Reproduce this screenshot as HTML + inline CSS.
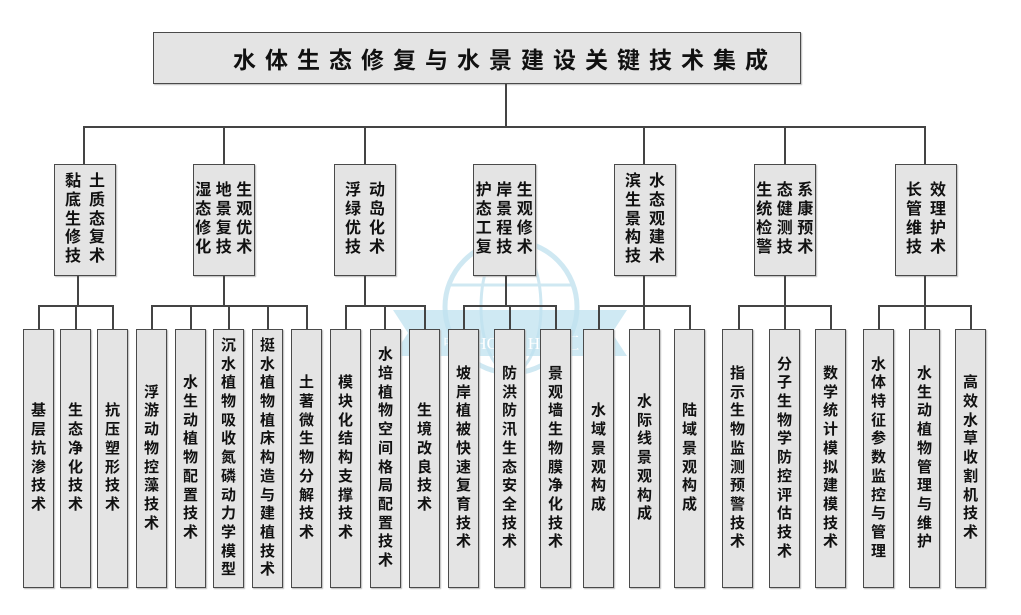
<!DOCTYPE html>
<html><head><meta charset="utf-8"><style>
body{margin:0;width:1021px;height:615px;background:#fff;position:relative;overflow:hidden;font-family:"Liberation Sans","Noto Sans CJK SC",sans-serif;}
.b{position:absolute;background:#e4e4e4;border:1.5px solid #4a4a4a;box-sizing:border-box;box-shadow:1px 1px 1px #bbb;display:flex;align-items:center;justify-content:center;font-weight:bold;color:#111;}
.m{font-size:16px;line-height:18.8px;letter-spacing:8px;text-align:left;padding-left:8px;white-space:nowrap;}
.m3{letter-spacing:4.5px;padding-left:4px;}
.l{font-size:15px;line-height:18.7px;width:31px;text-align:center;}
.l span{display:block;width:16px;margin:0 auto;word-break:break-all;}
.h{position:absolute;background:#444;height:1.5px;}
.v{position:absolute;background:#444;width:1.5px;}
</style></head><body>
<svg style="position:absolute;left:0;top:0" width="1021" height="615">
<g opacity="0.55" fill="none" stroke="#a9d6e8" stroke-width="5">
<circle cx="511" cy="307" r="66"/>
<ellipse cx="511" cy="307" rx="30" ry="66" stroke-width="3"/>
<line x1="447" y1="285" x2="575" y2="285" stroke-width="3"/>
</g>
<polygon points="393,310 627,310 612,333 627,356 393,356 408,333" fill="#bfe2ef" opacity="0.75"/>
<text x="511" y="349" font-family="Liberation Serif,Noto Serif CJK SC,serif" font-size="17" fill="#fff" text-anchor="middle">中 ZHONG HUI 汇</text>
</svg>
<div class="b" style="left:153px;top:32px;width:648px;height:52px;font-size:23px;letter-spacing:9px;padding-left:56px;white-space:nowrap;">水体生态修复与水景建设关键技术集成</div>
<div class="v" style="left:505px;top:84px;height:44px"></div>
<div class="h" style="left:83px;top:126px;width:843px"></div>
<div class="v" style="left:83px;top:126px;height:38px"></div>
<div class="v" style="left:223px;top:126px;height:38px"></div>
<div class="v" style="left:364px;top:126px;height:38px"></div>
<div class="v" style="left:643px;top:126px;height:38px"></div>
<div class="v" style="left:784px;top:126px;height:38px"></div>
<div class="v" style="left:924px;top:126px;height:38px"></div>

<div class="b m" style="left:54px;top:164px;width:62px;height:112px">黏土<br>底质<br>生态<br>修复<br>技术</div>
<div class="b m m3" style="left:193px;top:164px;width:62px;height:112px">湿地生<br>态景观<br>修复优<br>化技术</div>
<div class="b m" style="left:334px;top:164px;width:62px;height:112px">浮动<br>绿岛<br>优化<br>技术</div>
<div class="b m m3" style="left:473px;top:164px;width:63px;height:112px">护岸生<br>态景观<br>工程修<br>复技术</div>
<div class="b m" style="left:614px;top:164px;width:62px;height:112px">滨水<br>生态<br>景观<br>构建<br>技术</div>
<div class="b m m3" style="left:754px;top:164px;width:62px;height:112px">生态系<br>统健康<br>检测预<br>警技术</div>
<div class="b m" style="left:895px;top:164px;width:62px;height:112px">长效<br>管理<br>维护<br>技术</div>

<div class="v" style="left:77px;top:276px;height:30px"></div>
<div class="v" style="left:223px;top:276px;height:30px"></div>
<div class="v" style="left:364px;top:276px;height:30px"></div>
<div class="v" style="left:505px;top:276px;height:30px"></div>
<div class="v" style="left:643px;top:276px;height:30px"></div>
<div class="v" style="left:784px;top:276px;height:30px"></div>
<div class="v" style="left:924px;top:276px;height:30px"></div>

<div class="h" style="left:38px;top:305px;width:76px"></div>
<div class="h" style="left:152px;top:305px;width:156px"></div>
<div class="h" style="left:345px;top:305px;width:80px"></div>
<div class="h" style="left:463px;top:305px;width:93px"></div>
<div class="h" style="left:598px;top:305px;width:92px"></div>
<div class="h" style="left:738px;top:305px;width:93px"></div>
<div class="h" style="left:878px;top:305px;width:93px"></div>

<div class="v" style="left:38px;top:305px;height:24px"></div>
<div class="v" style="left:75px;top:305px;height:24px"></div>
<div class="v" style="left:112px;top:305px;height:24px"></div>
<div class="v" style="left:151px;top:305px;height:24px"></div>
<div class="v" style="left:190px;top:305px;height:24px"></div>
<div class="v" style="left:228px;top:305px;height:24px"></div>
<div class="v" style="left:267px;top:305px;height:24px"></div>
<div class="v" style="left:306px;top:305px;height:24px"></div>
<div class="v" style="left:345px;top:305px;height:24px"></div>
<div class="v" style="left:384px;top:305px;height:24px"></div>
<div class="v" style="left:424px;top:305px;height:24px"></div>
<div class="v" style="left:463px;top:305px;height:24px"></div>
<div class="v" style="left:509px;top:305px;height:24px"></div>
<div class="v" style="left:555px;top:305px;height:24px"></div>
<div class="v" style="left:598px;top:305px;height:24px"></div>
<div class="v" style="left:643px;top:305px;height:24px"></div>
<div class="v" style="left:689px;top:305px;height:24px"></div>
<div class="v" style="left:738px;top:305px;height:24px"></div>
<div class="v" style="left:784px;top:305px;height:24px"></div>
<div class="v" style="left:830px;top:305px;height:24px"></div>
<div class="v" style="left:878px;top:305px;height:24px"></div>
<div class="v" style="left:924px;top:305px;height:24px"></div>
<div class="v" style="left:970px;top:305px;height:24px"></div>

<div class="b l" style="left:23px;top:329px;width:31px;height:259px"><span>基层抗渗技术</span></div>
<div class="b l" style="left:60px;top:329px;width:31px;height:259px"><span>生态净化技术</span></div>
<div class="b l" style="left:97px;top:329px;width:31px;height:259px"><span>抗压塑形技术</span></div>
<div class="b l" style="left:136px;top:329px;width:31px;height:259px"><span>浮游动物控藻技术</span></div>
<div class="b l" style="left:175px;top:329px;width:31px;height:259px"><span>水生动植物配置技术</span></div>
<div class="b l" style="left:213px;top:329px;width:31px;height:259px"><span>沉水植物吸收氮磷动力学模型</span></div>
<div class="b l" style="left:252px;top:329px;width:31px;height:259px"><span>挺水植物植床构造与建植技术</span></div>
<div class="b l" style="left:291px;top:329px;width:31px;height:259px"><span>土著微生物分解技术</span></div>
<div class="b l" style="left:330px;top:329px;width:31px;height:259px"><span>模块化结构支撑技术</span></div>
<div class="b l" style="left:370px;top:329px;width:31px;height:259px"><span>水培植物空间格局配置技术</span></div>
<div class="b l" style="left:409px;top:329px;width:31px;height:259px"><span>生境改良技术</span></div>
<div class="b l" style="left:448px;top:329px;width:31px;height:259px"><span>坡岸植被快速复育技术</span></div>
<div class="b l" style="left:494px;top:329px;width:31px;height:259px"><span>防洪防汛生态安全技术</span></div>
<div class="b l" style="left:540px;top:329px;width:31px;height:259px"><span>景观墙生物膜净化技术</span></div>
<div class="b l" style="left:583px;top:329px;width:31px;height:259px"><span>水域景观构成</span></div>
<div class="b l" style="left:629px;top:329px;width:31px;height:259px"><span>水际线景观构成</span></div>
<div class="b l" style="left:674px;top:329px;width:31px;height:259px"><span>陆域景观构成</span></div>
<div class="b l" style="left:722px;top:329px;width:31px;height:259px"><span>指示生物监测预警技术</span></div>
<div class="b l" style="left:769px;top:329px;width:31px;height:259px"><span>分子生物学防控评估技术</span></div>
<div class="b l" style="left:815px;top:329px;width:31px;height:259px"><span>数学统计模拟建模技术</span></div>
<div class="b l" style="left:863px;top:329px;width:31px;height:259px"><span>水体特征参数监控与管理</span></div>
<div class="b l" style="left:909px;top:329px;width:31px;height:259px"><span>水生动植物管理与维护</span></div>
<div class="b l" style="left:955px;top:329px;width:31px;height:259px"><span>高效水草收割机技术</span></div>
</body></html>
